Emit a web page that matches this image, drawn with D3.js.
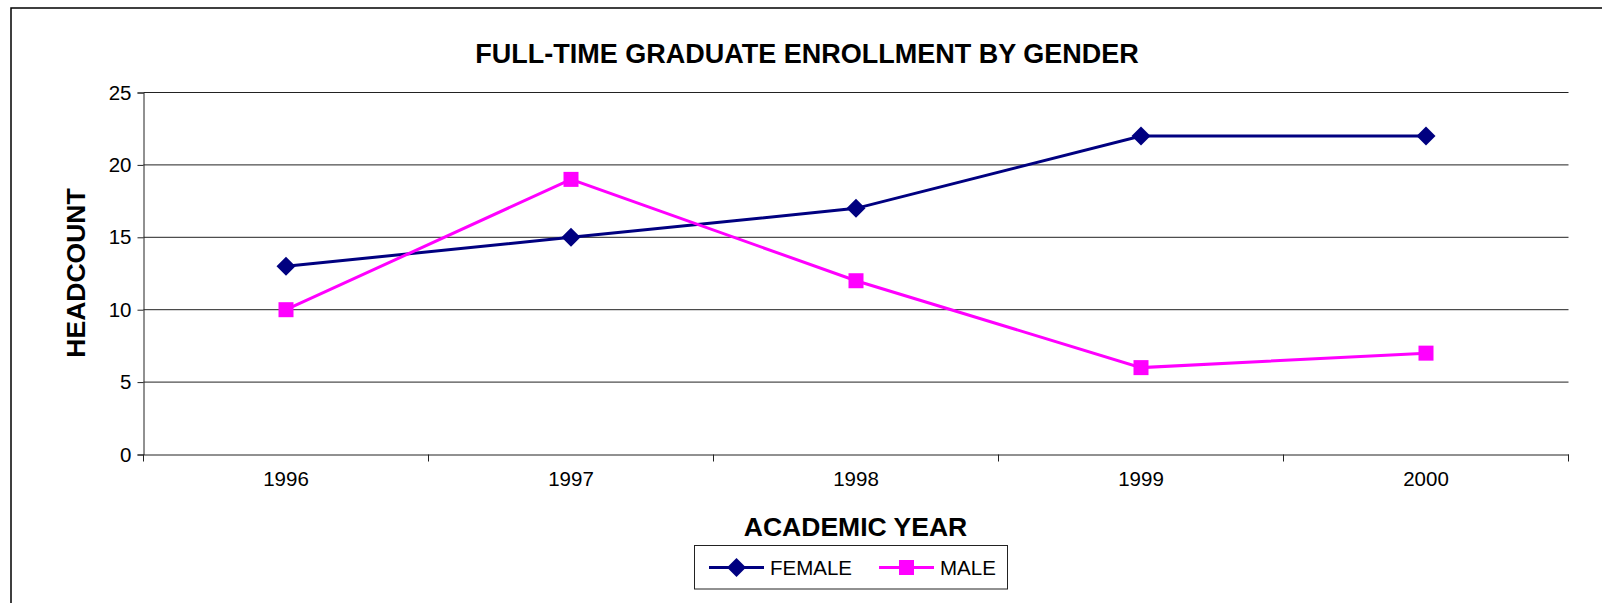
<!DOCTYPE html>
<html>
<head>
<meta charset="utf-8">
<script src="https://cdn.jsdelivr.net/npm/d3@7"></script>
<style>
  body { margin: 0; background: #fff; }
  text { font-family: "Liberation Sans", Arial, sans-serif; fill: #000; }
</style>
</head>
<body>
<svg width="1602" height="603"></svg>
<script>
// chart data
var years = ["1996", "1997", "1998", "1999", "2000"];
var female = [13, 15, 17, 22, 22];
var male = [10, 19, 12, 6, 7];
var yTicks = [0, 5, 10, 15, 20, 25];

var svg = d3.select("svg"),
    margin = {top: 92.5, right: 33.5, bottom: 148.5, left: 143.5},
    width = +svg.attr("width"),
    height = +svg.attr("height");

// outer chart border (runs off right and bottom)
svg.append("rect")
    .attr("x", 11).attr("y", 8)
    .attr("width", 1620).attr("height", 620)
    .attr("fill", "none")
    .attr("stroke", "#000")
    .attr("stroke-width", 1.5);

var x = d3.scaleBand()
    .domain(years)
    .range([margin.left, width - margin.right]);

var y = d3.scaleLinear()
    .domain([0, 25])
    .range([height - margin.bottom, margin.top]);

// gridlines
svg.append("g")
    .selectAll("line")
    .data(yTicks.filter(function(d) { return d > 0; }))
    .enter().append("line")
    .attr("x1", margin.left)
    .attr("x2", width - margin.right)
    .attr("y1", function(d) { return y(d); })
    .attr("y2", function(d) { return y(d); })
    .attr("stroke", "#222")
    .attr("stroke-width", 1);

// y axis
var yAxis = svg.append("g")
    .attr("transform", "translate(" + margin.left + ",0)")
    .call(d3.axisLeft(y).tickValues(yTicks).tickSize(6).tickPadding(6));
yAxis.selectAll("text").style("font-size", "20.5px");
yAxis.selectAll("path, line").attr("stroke", "#222");

// x axis with ticks on band boundaries
var xAxis = svg.append("g")
    .attr("transform", "translate(0," + y(0) + ")")
    .call(d3.axisBottom(x).tickSize(0).tickPadding(17).tickSizeOuter(0));
xAxis.selectAll("text").style("font-size", "20.5px");
xAxis.select(".domain").attr("stroke", "#222");
var bounds = years.map(function(d) { return x(d); }).concat([x(years[years.length - 1]) + x.bandwidth()]);
xAxis.selectAll(".bnd")
    .data(bounds)
    .enter().append("line")
    .attr("x1", function(d) { return d; })
    .attr("x2", function(d) { return d; })
    .attr("y1", 0).attr("y2", 7)
    .attr("stroke", "#222");

function cx(d, i) { return x(years[i]) + x.bandwidth() / 2; }

var line = d3.line()
    .x(function(d, i) { return cx(d, i); })
    .y(function(d) { return y(d); });

// FEMALE series
svg.append("path")
    .datum(female)
    .attr("d", line)
    .attr("fill", "none")
    .attr("stroke", "#000080")
    .attr("stroke-width", 3);

svg.append("g").selectAll("path")
    .data(female)
    .enter().append("path")
    .attr("d", d3.symbol().type(d3.symbolDiamond2).size(230))
    .attr("transform", function(d, i) { return "translate(" + cx(d, i) + "," + y(d) + ")"; })
    .attr("fill", "#000080");

// MALE series
svg.append("path")
    .datum(male)
    .attr("d", line)
    .attr("fill", "none")
    .attr("stroke", "#ff00ff")
    .attr("stroke-width", 3);

svg.append("g").selectAll("rect")
    .data(male)
    .enter().append("rect")
    .attr("x", function(d, i) { return cx(d, i) - 7.5; })
    .attr("y", function(d) { return y(d) - 7.5; })
    .attr("width", 15).attr("height", 15)
    .attr("fill", "#ff00ff");

// titles
svg.append("text")
    .attr("x", 807).attr("y", 63)
    .attr("text-anchor", "middle")
    .style("font-size", "27px").style("font-weight", "bold")
    .text("FULL-TIME GRADUATE ENROLLMENT BY GENDER");

svg.append("text")
    .attr("x", 855.5).attr("y", 536)
    .attr("text-anchor", "middle")
    .style("font-size", "26.5px").style("font-weight", "bold")
    .text("ACADEMIC YEAR");

svg.append("text")
    .attr("transform", "translate(85,273) rotate(-90)")
    .attr("text-anchor", "middle")
    .style("font-size", "26.5px").style("font-weight", "bold")
    .text("HEADCOUNT");

// legend
var legend = svg.append("g");
legend.append("rect")
    .attr("x", 694.5).attr("y", 545.5)
    .attr("width", 313).attr("height", 43.5)
    .attr("fill", "#fff")
    .attr("stroke", "#222");

var legendItems = [
  {name: "FEMALE", color: "#000080", x0: 709, shape: "diamond"},
  {name: "MALE", color: "#ff00ff", x0: 879, shape: "square"}
];
var ly = 567.5;
legendItems.forEach(function(it) {
  legend.append("line")
      .attr("x1", it.x0).attr("x2", it.x0 + 55)
      .attr("y1", ly).attr("y2", ly)
      .attr("stroke", it.color).attr("stroke-width", 3);
  if (it.shape == "diamond") {
    legend.append("path")
        .attr("d", d3.symbol().type(d3.symbolDiamond2).size(230))
        .attr("transform", "translate(" + (it.x0 + 27.5) + "," + ly + ")")
        .attr("fill", it.color);
  } else {
    legend.append("rect")
        .attr("x", it.x0 + 27.5 - 7.5).attr("y", ly - 7.5)
        .attr("width", 15).attr("height", 15)
        .attr("fill", it.color);
  }
  legend.append("text")
      .attr("x", it.x0 + 61).attr("y", ly + 7.5)
      .style("font-size", "20.5px")
      .text(it.name);
});
</script>
</body>
</html>
